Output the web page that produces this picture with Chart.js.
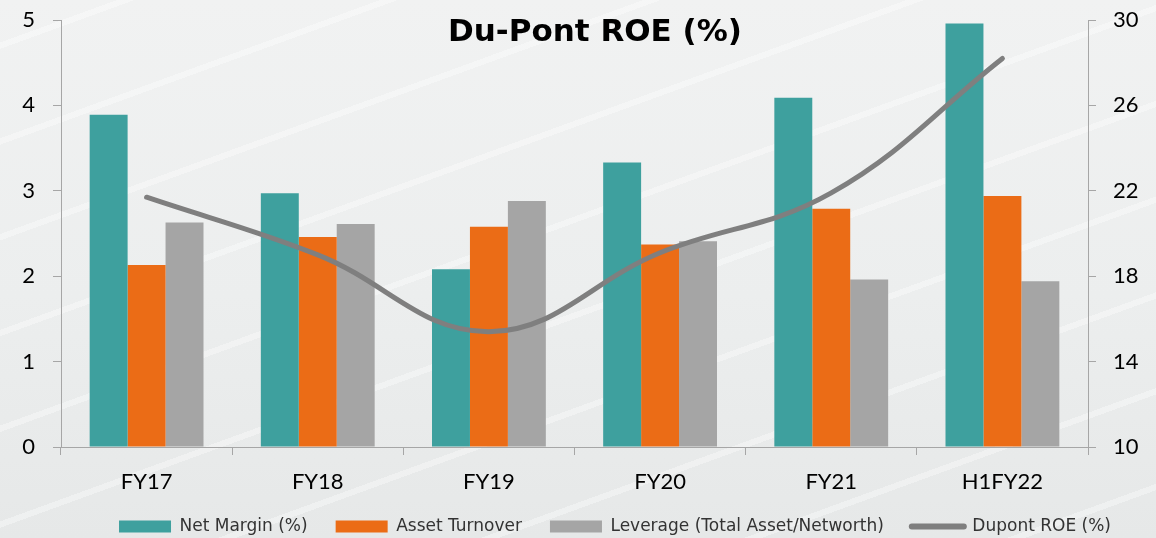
<!DOCTYPE html>
<html>
<head>
<meta charset="utf-8">
<script src="https://cdn.jsdelivr.net/npm/chart.js@4"></script>
<style>
  html, body { margin: 0; padding: 0; }
  body {
    width: 1156px; height: 538px; overflow: hidden;
    background:
      repeating-linear-gradient(160deg, rgba(255,255,255,0) 0 40px, rgba(255,255,255,0.35) 40px 46px, rgba(255,255,255,0) 46px 90px),
      linear-gradient(180deg, #f1f2f2 0%, #eceeee 55%, #e6e8e8 100%);
  }
  #wrap { position: relative; width: 1156px; height: 538px; }
  #title {
    position: absolute; top: 12px; left: 0; width: 1190px; text-align: center;
    font-family: "DejaVu Sans", sans-serif; font-weight: bold; font-size: 31px; color: #000;
  }
</style>
</head>
<body>
<div id="wrap">
  <canvas id="myChart" width="1156" height="538"></canvas>
  <div id="title">Du-Pont ROE (%)</div>
</div>
<script>
// data
const periods = ['FY17', 'FY18', 'FY19', 'FY20', 'FY21', 'H1FY22'];
const netMargin = [3.89, 2.97, 2.08, 3.33, 4.09, 4.96];
const assetTurnover = [2.13, 2.46, 2.58, 2.37, 2.79, 2.94];
const leverage = [2.63, 2.61, 2.88, 2.41, 1.96, 1.94];
const dupontRoe = [21.7, 19.0, 15.4, 19.1, 21.9, 28.2];
const leftTicks = [0, 1, 2, 3, 4, 5];
const rightTicks = [10, 14, 18, 22, 26, 30];

const teal = '#3ea09e';
const orange = '#eb6c16';
const grey = '#a5a5a5';
const lineGrey = '#7f7f7f';
const axisColor = '#a6a6a6';
const tickFont = { family: 'Lato', size: 22 };

// legend in the reference sits a bit right of centre and lower
const legendShift = {
    id: 'legendShift',
    afterLayout(chart) {
        const lg = chart.legend;
        lg.left += 37; lg.right += 37;
        lg.top += 7; lg.bottom += 7;
    }
};

function fixWidth(w) {
    return (scale) => {
        scale.width = w;
        scale.paddingTop = 0;
        scale.paddingBottom = 0;
    };
}

const ctx = document.getElementById('myChart');
const myChart = new Chart(ctx, {
    type: 'bar',
    data: {
        labels: periods,
        datasets: [
            { label: 'Net Margin (%)', data: netMargin, backgroundColor: teal, yAxisID: 'y', order: 1 },
            { label: 'Asset Turnover', data: assetTurnover, backgroundColor: orange, yAxisID: 'y', order: 1 },
            { label: 'Leverage (Total Asset/Networth)', data: leverage, backgroundColor: grey, yAxisID: 'y', order: 1 },
            {
                type: 'line', label: 'Dupont ROE (%)', data: dupontRoe, yAxisID: 'y1', order: 0,
                borderColor: lineGrey, borderWidth: 5, borderCapStyle: 'round',
                tension: 0.4, pointRadius: 0, fill: false
            }
        ]
    },
    plugins: [legendShift],
    options: {
        responsive: false,
        animation: false,
        layout: { padding: { top: 20, left: 0, right: 0, bottom: 0 } },
        datasets: { bar: { barPercentage: 1, categoryPercentage: 0.665 } },
        plugins: {
            tooltip: { enabled: false },
            legend: {
                position: 'bottom',
                labels: {
                    font: { family: 'DejaVu Sans', size: 17 },
                    color: '#333',
                    usePointStyle: true,
                    pointStyleWidth: 52,
                    boxHeight: 12,
                    padding: 28,
                    generateLabels: (chart) => chart.data.datasets.map((ds, i) => ({
                        text: ds.label,
                        datasetIndex: i,
                        fillStyle: ds.type === 'line' ? lineGrey : ds.backgroundColor,
                        strokeStyle: ds.type === 'line' ? lineGrey : ds.backgroundColor,
                        lineWidth: ds.type === 'line' ? 6 : 0,
                        lineCap: 'round',
                        pointStyle: ds.type === 'line' ? 'line' : 'rect',
                        fontColor: '#333',
                        hidden: false
                    }))
                }
            }
        },
        scales: {
            x: {
                grid: { drawOnChartArea: false, drawTicks: true, tickLength: 8, color: axisColor },
                border: { color: axisColor },
                ticks: { font: tickFont, color: '#000', padding: 14 },
                afterFit: (scale) => {
                    scale.height = 36;
                    scale._computeLabelArea = () => null; // let labels run past the short axis box
                }
            },
            y: {
                position: 'left',
                min: 0, max: 5,
                afterBuildTicks: (scale) => { scale.ticks = leftTicks.map(v => ({ value: v })); },
                grid: { drawOnChartArea: false, drawTicks: true, tickLength: 8, color: axisColor },
                border: { color: axisColor },
                ticks: { font: tickFont, color: '#000', padding: 18 },
                afterFit: fixWidth(61)
            },
            y1: {
                position: 'right',
                min: 10, max: 30,
                afterBuildTicks: (scale) => { scale.ticks = rightTicks.map(v => ({ value: v })); },
                grid: { drawOnChartArea: false, drawTicks: true, tickLength: 8, color: axisColor },
                border: { color: axisColor },
                ticks: { font: tickFont, color: '#000', padding: 17 },
                afterFit: fixWidth(68)
            }
        }
    }
});
</script>
</body>
</html>
